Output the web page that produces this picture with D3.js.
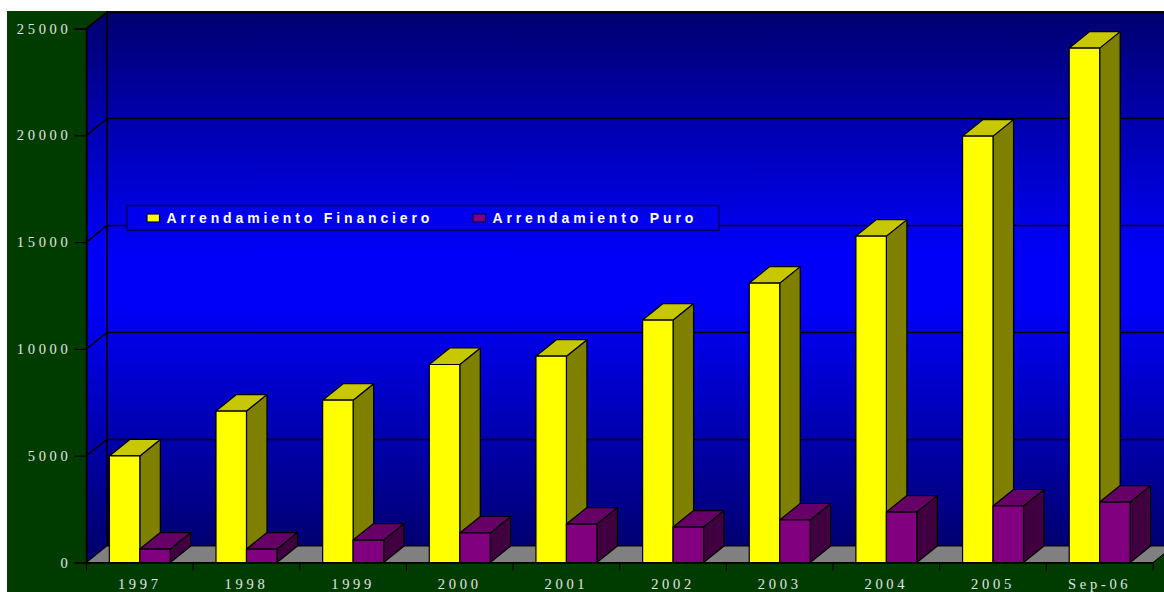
<!DOCTYPE html>
<html>
<head>
<meta charset="utf-8">
<script src="https://cdn.jsdelivr.net/npm/d3@7"></script>
<style>
body { margin: 0; background: #fff; }
svg { display: block; }
.tick-label { font-family: "Liberation Serif", serif; font-size: 14.5px; letter-spacing: 3.7px; fill: #e0e6e0; }
.legend-label { font-family: "Liberation Sans", sans-serif; font-size: 14px; font-weight: bold; letter-spacing: 3.85px; fill: #fff; }
</style>
</head>
<body>
<div id="chart"></div>
<script>
const categories = ['1997', '1998', '1999', '2000', '2001', '2002', '2003', '2004', '2005', 'Sep-06']
const seriesNames = ['Arrendamiento Financiero', 'Arrendamiento Puro']
const financiero = [4990, 7090, 7600, 9270, 9660, 11350, 13080, 15280, 19960, 24080]
const puro = [630, 630, 1050, 1380, 1800, 1660, 1990, 2360, 2645, 2830]
const yTicks = [0, 5000, 10000, 15000, 20000, 25000]

const width = 1164
const height = 592
const panel = {left: 7, top: 11}
const plot = {left: 86.5, right: 1153, top: 28.5, bottom: 562.5}
const depth = {x: 20.5, y: -16.5}

const colors = [
    {front: '#ffff00', top: '#c8c800', side: '#808000'},
    {front: '#800080', top: '#660066', side: '#400040'}
]

const svg = d3.select('#chart').append('svg')
    .attr('width', width)
    .attr('height', height)

const defs = svg.append('defs')
const wallGrad = defs.append('linearGradient')
    .attr('id', 'wall')
    .attr('gradientUnits', 'userSpaceOnUse')
    .attr('x1', 0).attr('x2', 0)
    .attr('y1', plot.top + depth.y).attr('y2', plot.bottom + depth.y)
wallGrad.append('stop').attr('offset', 0).attr('stop-color', '#000070')
wallGrad.append('stop').attr('offset', 0.45).attr('stop-color', '#0000f8')
wallGrad.append('stop').attr('offset', 0.55).attr('stop-color', '#0000f8')
wallGrad.append('stop').attr('offset', 1).attr('stop-color', '#000070')

const x0 = d3.scaleBand().domain(categories).range([plot.left, plot.right])
const x1 = d3.scaleBand().domain(seriesNames).range([0, x0.bandwidth()]).paddingOuter(0.75)
const y = d3.scaleLinear().domain([0, 25000]).range([plot.bottom, plot.top])

const line = d3.line()

// green background behind everything
svg.append('rect')
    .attr('x', panel.left).attr('y', panel.top)
    .attr('width', width - panel.left).attr('height', height - panel.top)
    .attr('fill', '#003c00')

// back wall and side wall
svg.append('rect')
    .attr('x', plot.left + depth.x).attr('y', plot.top + depth.y)
    .attr('width', plot.right - plot.left).attr('height', plot.bottom - plot.top)
    .attr('fill', 'url(#wall)')
    .attr('stroke', '#000').attr('stroke-width', 1.5)
svg.append('path')
    .attr('d', line([
        [plot.left, plot.top], [plot.left + depth.x, plot.top + depth.y],
        [plot.left + depth.x, plot.bottom + depth.y], [plot.left, plot.bottom]
    ]) + 'Z')
    .attr('fill', 'url(#wall)')
    .attr('stroke', '#000').attr('stroke-width', 1.5)

// floor
svg.append('path')
    .attr('d', line([
        [plot.left, plot.bottom], [plot.left + depth.x, plot.bottom + depth.y],
        [plot.right + depth.x, plot.bottom + depth.y], [plot.right, plot.bottom]
    ]) + 'Z')
    .attr('fill', '#808080')
    .attr('stroke', '#000').attr('stroke-width', 1)

// gridlines, back wall and side wall
const gridY = d => Math.floor(y(d) + depth.y) + 0.5
const grid = svg.append('g').attr('fill', 'none').attr('stroke', '#000').attr('stroke-width', 1.5)
grid.selectAll('path')
    .data(yTicks.filter(d => d > 0))
    .join('path')
    .attr('d', d => line([
        [plot.left, y(d)], [plot.left + depth.x, gridY(d)], [plot.right + depth.x, gridY(d)]
    ]))

// axes
const yAxis = d3.axisLeft(y).tickValues(yTicks).tickSize(12).tickPadding(3).tickFormat(d3.format('d'))
const yG = svg.append('g').attr('transform', `translate(${plot.left},0)`).call(yAxis)
const xAxis = d3.axisBottom(x0).tickSize(0).tickPadding(16)
const xG = svg.append('g').attr('transform', `translate(0,${plot.bottom})`).call(xAxis)

for (const g of [yG, xG]) {
    g.select('.domain').attr('stroke', '#000').attr('stroke-width', 1.5)
    g.selectAll('.tick line').attr('stroke', '#000').attr('stroke-width', 1.2)
    g.selectAll('.tick text').attr('class', 'tick-label').attr('fill', null)
}

// x ticks sit on the category boundaries
svg.append('g').selectAll('line')
    .data(d3.range(categories.length + 1))
    .join('line')
    .attr('x1', i => plot.left + i * x0.step())
    .attr('x2', i => plot.left + i * x0.step())
    .attr('y1', plot.bottom)
    .attr('y2', plot.bottom + 8)
    .attr('stroke', '#000').attr('stroke-width', 1.2)

// bars: left to right is enough for the overlaps
const values = [financiero, puro]
const bars = svg.append('g').attr('stroke', '#000').attr('stroke-width', 1.2).attr('stroke-linejoin', 'round')
categories.forEach((cat, i) => {
    seriesNames.forEach((name, s) => {
        const xl = x0(cat) + x1(name)
        const xr = xl + x1.bandwidth()
        const yt = y(values[s][i])
        const yb = y(0)
        const g = bars.append('g')
        g.append('path')
            .attr('fill', colors[s].side)
            .attr('d', line([[xr, yt], [xr + depth.x, yt + depth.y], [xr + depth.x, yb + depth.y], [xr, yb]]) + 'Z')
        g.append('path')
            .attr('fill', colors[s].top)
            .attr('d', line([[xl, yt], [xl + depth.x, yt + depth.y], [xr + depth.x, yt + depth.y], [xr, yt]]) + 'Z')
        g.append('rect')
            .attr('x', xl).attr('y', yt)
            .attr('width', xr - xl).attr('height', yb - yt)
            .attr('fill', colors[s].front)
    })
})

// legend
const legend = svg.append('g')
legend.append('rect')
    .attr('x', 127).attr('y', 205.5)
    .attr('width', 592).attr('height', 25)
    .attr('fill', '#0000ee')
    .attr('stroke', '#000050').attr('stroke-width', 1.5)
const legendX = [147, 473]
seriesNames.forEach((name, s) => {
    legend.append('rect')
        .attr('x', legendX[s]).attr('y', 214)
        .attr('width', 12.5).attr('height', 8)
        .attr('fill', colors[s].front)
        .attr('stroke', '#000050').attr('stroke-width', 1.2)
    legend.append('text')
        .attr('class', 'legend-label')
        .attr('x', legendX[s] + 19.5).attr('y', 223)
        .text(name)
})
</script>
</body>
</html>
